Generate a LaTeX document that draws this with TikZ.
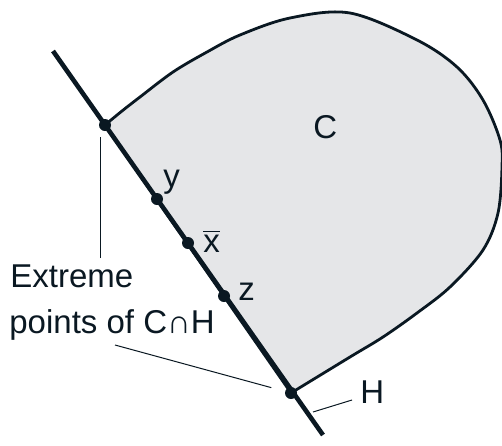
\documentclass[tikz,border=0pt]{standalone}
\usepackage{fontspec}
\setmainfont{Liberation Sans}
\usepackage{xcolor}
\usepackage{tikz}
\usetikzlibrary{positioning}

\definecolor{setfill}{RGB}{229,230,232}
\definecolor{ink}{RGB}{10,24,34}

\begin{document}
\begin{tikzpicture}[x=0.5pt,y=-0.5pt,
    every node/.style={text=ink,font=\fontsize{16.5}{23}\selectfont},
    lbl/.style={anchor=base west,inner sep=0pt},
    dot/.style={circle,fill=ink,inner sep=0pt,minimum size=6pt},
    leader/.style={draw=ink,line width=0.5pt}]
    \useasboundingbox (0,0) rectangle (502,445);
    % the convex set C
    \filldraw[fill=setfill,draw=ink,line width=1.4pt,line join=round]
      plot[smooth,tension=0.55] coordinates {(105,125) (122,111) (140,97) (173,72) (207,52) (240,35) (290,18) (350,13)
        (417,40) (457,67) (483,100) (500,140) (502,167) (498,213) (483,250) (450,287)
        (417,313) (383,337) (350,357) (291,393)} -- cycle;
    % the hyperplane H
    \coordinate (hTop) at (53,51);
    \coordinate (hBot) at (323,435);
    \draw[ink,line width=2.3pt] (hTop) -- (hBot);
    \node[dot] (eA) at (105,125) {};
    \node[dot] (eB) at (291,393) {};
    \node[dot] (pY) at (157,199) {};
    \node[dot] (pX) at (188,243) {};
    \node[dot] (pZ) at (224,296) {};
    \node[lbl] (lC) at (313,138) {C};
    \node[lbl] (lY) at (163,187) {y};
    \node[lbl] (lX) at (203,252) {$\overline{\hbox{x}}$};
    \node[lbl] (lZ) at (238,300) {z};
    \node[lbl] (lH) at (360,403) {H};
    \node[lbl] (ext1) at (10,287) {Extreme};
    \node[lbl] (ext2) at (9,333) {points of C∩H};
    % leaders
    \coordinate (kA) at (100,258);
    \coordinate (kA2) at (100,137);
    \coordinate (kB) at (115,345);
    \coordinate (kH) at (313,412);
    \coordinate (kH2) at (352,400);
    \draw[leader] (kA) -- (kA2);
    \draw[leader,shorten >=7pt] (kB) -- (eB);
    \draw[leader] (kH) -- (kH2);
\end{tikzpicture}
\end{document}
